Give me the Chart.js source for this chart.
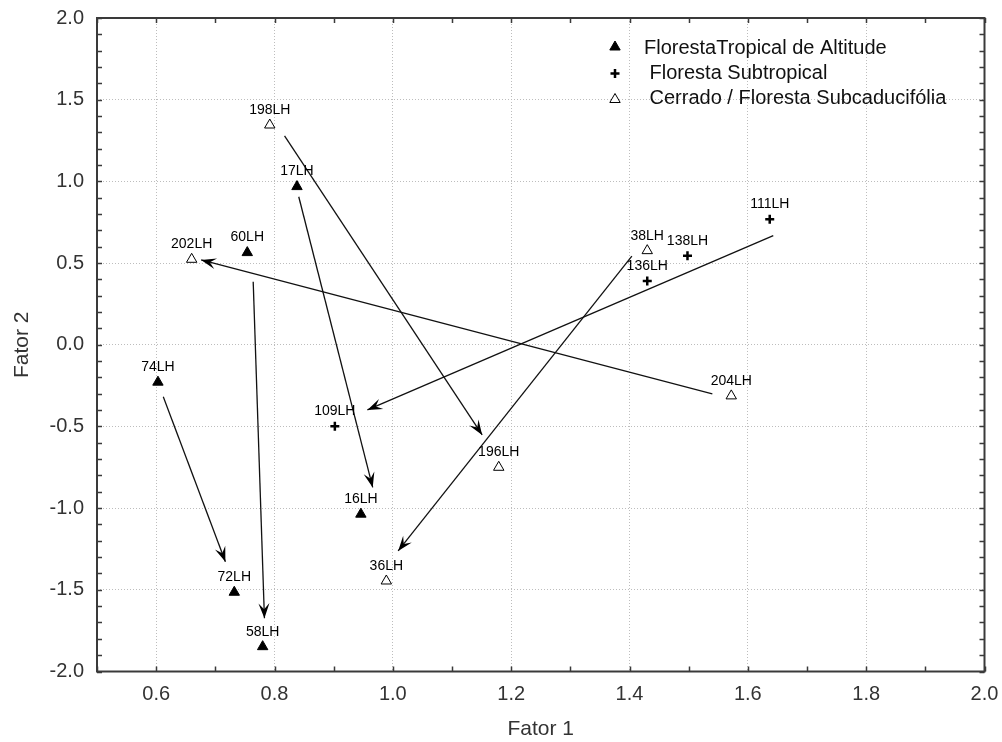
<!DOCTYPE html>
<html><head><meta charset="utf-8">
<script src="https://cdn.jsdelivr.net/npm/chart.js@4.4.0/dist/chart.umd.min.js"></script>
<style>html,body{margin:0;padding:0;background:#fff;}canvas{display:block;}</style>
</head><body>
<canvas id="c" width="1002" height="742"></canvas>
<script>
// ---- data ----
const seriesNames = ['FlorestaTropical de Altitude', ' Floresta Subtropical', ' Cerrado / Floresta Subcaducifólia'];

const tropicalLabels = ['17LH', '60LH', '74LH', '72LH', '58LH', '16LH'];
const tropicalX = [0.838, 0.754, 0.603, 0.732, 0.780, 0.946];
const tropicalY = [0.968, 0.564, -0.229, -1.515, -1.848, -1.037];

const subtropLabels = ['111LH', '138LH', '136LH', '109LH'];
const subtropX = [1.637, 1.498, 1.430, 0.902];
const subtropY = [0.768, 0.545, 0.390, -0.499];

const cerradoLabels = ['198LH', '202LH', '38LH', '204LH', '196LH', '36LH'];
const cerradoX = [0.792, 0.660, 1.430, 1.572, 1.179, 0.989];
const cerradoY = [1.345, 0.523, 0.576, -0.313, -0.750, -1.446];

// arrows (from -> to)
const arrowFromX = [0.612, 0.764, 0.841, 1.643, 1.404, 0.817, 1.540];
const arrowFromY = [-0.318, 0.386, 0.906, 0.668, 0.543, 1.278, -0.301];
const arrowToX   = [0.717, 0.783, 0.966, 0.957, 1.009, 1.151, 0.676];
const arrowToY   = [-1.328, -1.674, -0.873, -0.399, -1.262, -0.552, 0.519];

const xTicks = [0.6, 0.8, 1.0, 1.2, 1.4, 1.6, 1.8, 2.0];
const yTicks = [-2.0, -1.5, -1.0, -0.5, 0.0, 0.5, 1.0, 1.5, 2.0];
const xTitle = 'Fator 1';
const yTitle = 'Fator 2';

// ---- chart ----
const FONT = "'Liberation Sans', Arial, Helvetica, sans-serif";
function pts(xs, ys) { return xs.map((x, i) => ({ x: x, y: ys[i] })); }

const pointDatasets = [
  { label: seriesNames[0], data: pts(tropicalX, tropicalY), pointStyle: 'triangle', pointRadius: 6,
    backgroundColor: '#000', borderColor: '#000', borderWidth: 1, showLine: false, order: 0, labelsArr: tropicalLabels },
  { label: seriesNames[1], data: pts(subtropX, subtropY), pointStyle: 'cross', pointRadius: 4.5,
    backgroundColor: '#000', borderColor: '#000', borderWidth: 2.5, showLine: false, order: 0, labelsArr: subtropLabels },
  { label: seriesNames[2], data: pts(cerradoX, cerradoY), pointStyle: 'triangle', pointRadius: 6,
    backgroundColor: '#fff', borderColor: '#000', borderWidth: 1, showLine: false, order: 0, labelsArr: cerradoLabels }
];
const arrowDatasets = arrowFromX.map((fx, i) => ({
  label: 'arrow' + i,
  data: [{ x: fx, y: arrowFromY[i] }, { x: arrowToX[i], y: arrowToY[i] }],
  showLine: true, borderColor: '#111', borderWidth: 1.3, pointRadius: 0, order: 1, isArrow: true
}));

function drawHead(ctx, x0, y0, x1, y1) {
  const dx = x1 - x0, dy = y1 - y0, len = Math.hypot(dx, dy);
  const ux = dx / len, uy = dy / len, px = -uy, py = ux;
  const L = 15, W = 5.5, N = 9;
  ctx.beginPath();
  ctx.moveTo(x1, y1);
  ctx.lineTo(x1 - L * ux + W * px, y1 - L * uy + W * py);
  ctx.lineTo(x1 - N * ux, y1 - N * uy);
  ctx.lineTo(x1 - L * ux - W * px, y1 - L * uy - W * py);
  ctx.closePath();
  ctx.fillStyle = '#000';
  ctx.fill();
}

function triangle(ctx, x, y, r, filled) {
  ctx.beginPath();
  ctx.moveTo(x, y - r);
  ctx.lineTo(x + r * 0.866, y + r * 0.5);
  ctx.lineTo(x - r * 0.866, y + r * 0.5);
  ctx.closePath();
  ctx.lineWidth = 1;
  ctx.strokeStyle = '#000';
  ctx.fillStyle = filled ? '#000' : '#fff';
  ctx.fill();
  ctx.stroke();
}

const decor = {
  id: 'decor',
  afterDatasetsDraw(chart) {
    const ctx = chart.ctx, a = chart.chartArea, xs = chart.scales.x, ys = chart.scales.y;
    ctx.save();
    // arrowheads
    chart.data.datasets.forEach((ds, i) => {
      if (!ds.isArrow) return;
      const m = chart.getDatasetMeta(i);
      drawHead(ctx, m.data[0].x, m.data[0].y, m.data[1].x, m.data[1].y);
    });
    // point labels
    ctx.font = '14px ' + FONT;
    ctx.fillStyle = '#000';
    ctx.textAlign = 'center';
    ctx.textBaseline = 'middle';
    chart.data.datasets.forEach((ds, i) => {
      if (!ds.labelsArr) return;
      const m = chart.getDatasetMeta(i);
      m.data.forEach((el, j) => { ctx.fillText(ds.labelsArr[j], el.x, el.y - 15); });
    });
    // minor ticks (inside)
    ctx.strokeStyle = '#3a3a3a';
    ctx.lineWidth = 1.5;
    ctx.beginPath();
    for (let k = 5; k <= 20; k++) {
      const px = Math.round(xs.getPixelForValue(k / 10)) + 0.5;
      ctx.moveTo(px, a.bottom); ctx.lineTo(px, a.bottom - 5);
      ctx.moveTo(px, a.top); ctx.lineTo(px, a.top + 5);
    }
    for (let k = -20; k <= 20; k++) {
      const py = Math.round(ys.getPixelForValue(k / 10)) + 0.5;
      ctx.moveTo(a.left, py); ctx.lineTo(a.left + 5, py);
      ctx.moveTo(a.right, py); ctx.lineTo(a.right - 5, py);
    }
    ctx.stroke();
    // frame
    ctx.lineWidth = 2;
    ctx.strokeRect(a.left, a.top, a.right - a.left, a.bottom - a.top);
    // legend
    const lx = 615, tx = 644, rows = [48, 73.5, 98.5];
    triangle(ctx, lx, rows[0] - 1, 6, true);
    ctx.lineWidth = 2.5; ctx.strokeStyle = '#000';
    ctx.beginPath();
    ctx.moveTo(lx - 4.5, rows[1]); ctx.lineTo(lx + 4.5, rows[1]);
    ctx.moveTo(lx, rows[1] - 4.5); ctx.lineTo(lx, rows[1] + 4.5);
    ctx.stroke();
    triangle(ctx, lx, rows[2] + 1, 6, false);
    ctx.font = '20px ' + FONT;
    ctx.fillStyle = '#111';
    ctx.textAlign = 'left';
    ctx.textBaseline = 'middle';
    seriesNames.forEach((s, i) => ctx.fillText(s, tx, rows[i]));
    ctx.restore();
  }
};

const gridOpts = { color: '#bdbdbd', lineWidth: 1, drawTicks: false };

new Chart(document.getElementById('c'), {
  type: 'scatter',
  data: { datasets: pointDatasets.concat(arrowDatasets) },
  options: {
    responsive: false, animation: false,
    layout: { padding: { top: 18, right: 17.5, left: 0, bottom: 0 } },
    plugins: { legend: { display: false }, tooltip: { enabled: false } },
    elements: { line: { tension: 0 } },
    scales: {
      x: {
        type: 'linear', min: 0.5, max: 2.0,
        afterBuildTicks: s => { s.ticks = xTicks.map(v => ({ value: v })); },
        afterFit: s => { s.height = 70.5; s.paddingLeft = 0; s.paddingRight = 0; },
        grid: gridOpts,
        border: { display: false, dash: [1, 2] },
        ticks: { padding: 11, color: '#333', font: { family: FONT, size: 20 }, callback: v => Number(v).toFixed(1), maxRotation: 0, autoSkip: false },
        title: { display: true, text: xTitle, color: '#333', font: { family: FONT, size: 21 }, padding: { top: 0, bottom: 0 } }
      },
      y: {
        type: 'linear', min: -2.0, max: 2.0,
        afterBuildTicks: s => { s.ticks = yTicks.map(v => ({ value: v })); },
        afterFit: s => { s.width = 97; s.paddingTop = 0; s.paddingBottom = 0; },
        grid: gridOpts,
        border: { display: false, dash: [1, 2] },
        ticks: { padding: 13, color: '#333', font: { family: FONT, size: 20 }, callback: v => Number(v).toFixed(1), autoSkip: false },
        title: { display: true, text: yTitle, color: '#333', font: { family: FONT, size: 21 }, padding: { top: 10, bottom: 0 } }
      }
    }
  },
  plugins: [decor]
});
</script>
</body></html>
